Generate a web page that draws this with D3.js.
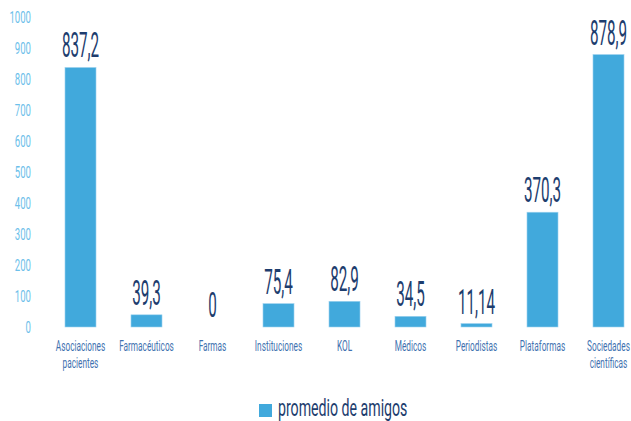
<!DOCTYPE html>
<html>
<head>
<meta charset="utf-8">
<script src="https://cdnjs.cloudflare.com/ajax/libs/d3/7.8.5/d3.min.js"></script>
<style>
    body { margin: 0; background: #fff; }
    text { font-family: Roboto, "Liberation Sans", sans-serif; }
</style>
</head>
<body>
<div id="chart"></div>
<script>
/*
* promedio de amigos - bar chart
*/

// chart data
var categories = [
    ["Asociaciones", "pacientes"],
    ["Farmacéuticos"],
    ["Farmas"],
    ["Instituciones"],
    ["KOL"],
    ["Médicos"],
    ["Periodistas"],
    ["Plataformas"],
    ["Sociedades", "científicas"]
];
var values = [837.2, 39.3, 0, 75.4, 82.9, 34.5, 11.14, 370.3, 878.9];
var value_labels = ["837,2", "39,3", "0", "75,4", "82,9", "34,5", "11,14", "370,3", "878,9"];
var y_ticks = [0, 100, 200, 300, 400, 500, 600, 700, 800, 900, 1000];
var series_name = "promedio de amigos";

(function () {

    "use strict";

    var width = 631,
        height = 421,
        bar_color = "#41a9dc",
        tick_color = "#6cc0ea",
        cat_color = "#3f72b0",
        label_color = "#1d3d6e";

    var svg = d3.select("#chart")
        .append("svg")
            .attr("width", width)
            .attr("height", height);

    var x = d3.scaleBand()
        .domain(d3.range(categories.length))
        .range([47.5, 641.5])
        .paddingInner(0.53)
        .paddingOuter(0.265);

    var y = d3.scaleLinear()
        .domain([0, 1000])
        .range([327, 17]);

    // squeezed text helper (the original uses a condensed face)
    function squeeze(sel, sx) {
        return sel.attr("transform", function () {
            var t = d3.select(this);
            return "translate(" + t.attr("data-x") + "," + t.attr("data-y") + ") scale(" + sx + ",1)";
        });
    }

    // y tick labels, no axis line
    var ticks = svg.append("g").selectAll("text")
        .data(y_ticks)
        .join("text")
            .attr("data-x", 31)
            .attr("data-y", function (d) { return y(d) + 6; })
            .attr("text-anchor", "end")
            .attr("fill", tick_color)
            .attr("font-size", 16)
            .text(function (d) { return d; });
    squeeze(ticks, 0.6);

    // bars
    svg.append("g").selectAll("rect")
        .data(values)
        .join("rect")
            .attr("x", function (d, i) { return x(i); })
            .attr("y", function (d) { return y(d); })
            .attr("width", x.bandwidth())
            .attr("height", function (d) { return y(0) - y(d); })
            .attr("fill", bar_color)
            .attr("stroke", "#9fd3ef")
            .attr("stroke-width", 0.6);

    // value labels
    var vals = svg.append("g").selectAll("text")
        .data(values)
        .join("text")
            .attr("data-x", function (d, i) { return x(i) + x.bandwidth() / 2; })
            .attr("data-y", function (d) { return y(d) - 10; })
            .attr("text-anchor", "middle")
            .attr("fill", label_color)
            .attr("font-size", 35)
            .attr("font-weight", 400)
            .text(function (d, i) { return value_labels[i]; });
    squeeze(vals, 0.435);

    // category labels, one text per line
    var cats = svg.append("g").selectAll("g")
        .data(categories)
        .join("g");
    var cat_lines = cats.selectAll("text")
        .data(function (d, i) {
            return d.map(function (line, k) { return { text: line, i: i, k: k }; });
        })
        .join("text")
            .attr("data-x", function (d) { return x(d.i) + x.bandwidth() / 2; })
            .attr("data-y", function (d) { return 351 + d.k * 17; })
            .attr("text-anchor", "middle")
            .attr("fill", cat_color)
            .attr("font-size", 14.5)
            .text(function (d) { return d.text; });
    squeeze(cat_lines, 0.57);

    // legend
    var legend = svg.append("g");
    legend.append("rect")
        .attr("x", 259)
        .attr("y", 404)
        .attr("width", 13)
        .attr("height", 13)
        .attr("fill", bar_color);
    var leg_text = legend.append("text")
        .attr("data-x", 278)
        .attr("data-y", 416)
        .attr("fill", label_color)
        .attr("font-size", 24)
        .text(series_name);
    squeeze(leg_text, 0.59);

}());
</script>
</body>
</html>
